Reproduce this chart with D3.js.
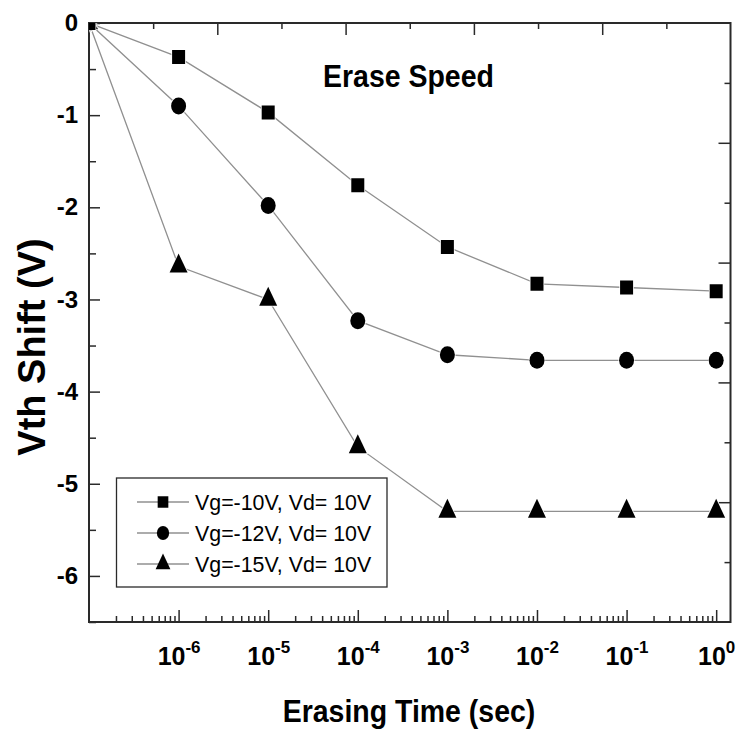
<!DOCTYPE html>
<html>
<head>
<meta charset="utf-8">
<script src="https://cdn.jsdelivr.net/npm/d3@7"></script>
<style>
  html, body { margin: 0; padding: 0; background: #fff; }
  svg { display: block; font-family: "Liberation Sans", Arial, sans-serif; }
</style>
</head>
<body>
<svg id="chart" width="736" height="733"></svg>
<script>
// Erasing time (s) and threshold-voltage shift (V) for each gate bias
const times = [1e-7, 1e-6, 1e-5, 1e-4, 1e-3, 1e-2, 1e-1, 1];
const vg10 = [0, -0.37, -0.97, -1.76, -2.43, -2.83, -2.87, -2.91];
const vg12 = [0, -0.90, -1.98, -3.23, -3.60, -3.66, -3.66, -3.66];
const vg15 = [0, -2.64, -3.00, -4.60, -5.30, -5.30, -5.30, -5.30];
const seriesNames = ["Vg=-10V, Vd= 10V", "Vg=-12V, Vd= 10V", "Vg=-15V, Vd= 10V"];
const seriesShapes = ["square", "circle", "triangle"];
const xDecades = [1e-6, 1e-5, 1e-4, 1e-3, 1e-2, 1e-1, 1];
const yTicks = [0, -1, -2, -3, -4, -5, -6];

const FONT = "'Liberation Sans', Arial, sans-serif";
const svg = d3.select("#chart");
const L = 89, R = 730.5, T = 23, B = 622;

const x = d3.scaleLog().domain([1e-7, 1.445]).range([L, R]);
const y = d3.scaleLinear().domain([0, -6.5]).range([T, B]);

const axisColor = "#2a2a2a";

// marker path generators (centered on the data point)
function shapePath(shape, s) {
  if (shape === "square") {
    const w = 13 * s, h = 14 * s;
    return `M${-w/2},${-h/2}h${w}v${h}h${-w}Z`;
  }
  if (shape === "circle") {
    const rx = 7.5 * s, ry = 8.5 * s;
    return `M${-rx},0A${rx},${ry} 0 1,0 ${rx},0A${rx},${ry} 0 1,0 ${-rx},0Z`;
  }
  const w = 18 * s, h = 19 * s;
  return `M0,${-2*h/3}L${w/2},${h/3}L${-w/2},${h/3}Z`;
}

// clip for data
svg.append("defs").append("clipPath").attr("id", "plotclip")
  .append("rect").attr("x", L).attr("y", T).attr("width", R - L).attr("height", B - T);

// ---- axes ----
function styleAxis(g) {
  g.attr("font-family", FONT);
  g.select(".domain").remove();
  g.selectAll(".tick line").attr("stroke", axisColor).attr("stroke-width", 1.5);
}

// bottom: log minor ticks and decade ticks
const minorVals = [];
for (let e = -7; e <= 0; e++) {
  for (let m = 2; m <= 9; m++) {
    const v = m * Math.pow(10, e);
    if (v < 1.445) minorVals.push(v);
  }
}
svg.append("g").attr("transform", `translate(0,${B})`)
  .call(d3.axisBottom(x).tickValues(minorVals).tickSize(-6).tickFormat(""))
  .call(styleAxis);
const bottomMajor = svg.append("g").attr("transform", `translate(0,${B})`)
  .call(d3.axisBottom(x).tickValues(xDecades).tickSize(-12).tickFormat(""))
  .call(styleAxis);
bottomMajor.selectAll(".tick text").remove();
bottomMajor.selectAll(".tick").each(function(d) {
  const exp = Math.round(Math.log10(d));
  const t = d3.select(this).append("text")
    .attr("fill", "#000")
    .attr("y", 43)
    .attr("text-anchor", "middle")
    .attr("font-family", FONT)
    .attr("font-size", 25)
    .attr("font-weight", "bold");
  t.append("tspan").text("10");
  t.append("tspan").attr("dy", -12).attr("font-size", 17).text(String(exp));
});

// left axis
svg.append("g").attr("transform", `translate(${L},0)`)
  .call(d3.axisLeft(y).tickValues(d3.range(-0.5, -6.6, -1)).tickSize(-7).tickFormat(""))
  .call(styleAxis);
svg.append("g").attr("transform", `translate(${L},0)`)
  .call(d3.axisLeft(y).tickValues(yTicks).tickSize(-11).tickPadding(11).tickFormat(d => String(d)))
  .call(styleAxis)
  .call(g => g.selectAll(".tick text")
    .attr("fill", "#000").attr("font-size", 24).attr("font-weight", "bold")
    .attr("font-family", FONT));

// top and right axes: plain linear scales with ten divisions
const xTop = d3.scaleLinear().domain([0, 10]).range([L, R]);
const yRight = d3.scaleLinear().domain([0, 10]).range([T, B]);
svg.append("g").attr("transform", `translate(0,${T})`)
  .call(d3.axisTop(xTop).tickValues([1, 3, 5, 7, 9]).tickSize(-6).tickFormat(""))
  .call(styleAxis);
svg.append("g").attr("transform", `translate(0,${T})`)
  .call(d3.axisTop(xTop).tickValues([2, 4, 6, 8]).tickSize(-12).tickFormat(""))
  .call(styleAxis);
svg.append("g").attr("transform", `translate(${R},0)`)
  .call(d3.axisRight(yRight).tickValues([1, 3, 5, 7, 9]).tickSize(-6).tickFormat(""))
  .call(styleAxis);
svg.append("g").attr("transform", `translate(${R},0)`)
  .call(d3.axisRight(yRight).tickValues([2, 4, 6, 8]).tickSize(-12).tickFormat(""))
  .call(styleAxis);

// frame
svg.append("rect").attr("x", L).attr("y", T).attr("width", R - L).attr("height", B - T)
  .attr("fill", "none").attr("stroke", axisColor).attr("stroke-width", 2);

// ---- data ----
const allSeries = [vg15, vg12, vg10];
const allShapes = ["triangle", "circle", "square"];
const plot = svg.append("g").attr("clip-path", "url(#plotclip)");
const line = d3.line().x((d, i) => x(times[i])).y(d => y(d));

allSeries.forEach(vals => {
  plot.append("path").datum(vals)
    .attr("d", line)
    .attr("fill", "none")
    .attr("stroke", "#909090")
    .attr("stroke-width", 1.3);
});
allSeries.forEach((vals, k) => {
  plot.selectAll(null).data(vals).enter().append("path")
    .attr("transform", (d, i) => `translate(${x(times[i])},${y(d)})`)
    .attr("d", shapePath(allShapes[k], 1))
    .attr("fill", "#000")
    .attr("stroke", "#fff")
    .attr("stroke-width", 1.5)
    .attr("paint-order", "stroke");
});

// ---- titles ----
svg.append("text")
  .attr("transform", "translate(323,87) scale(0.89,1)")
  .attr("font-size", 32).attr("font-weight", "bold").attr("fill", "#000")
  .text("Erase Speed");

svg.append("text")
  .attr("transform", "translate(409,722) scale(0.89,1)")
  .attr("text-anchor", "middle")
  .attr("font-size", 32).attr("font-weight", "bold").attr("fill", "#000")
  .text("Erasing Time (sec)");

svg.append("text")
  .attr("transform", "translate(45,347) rotate(-90)")
  .attr("text-anchor", "middle")
  .attr("font-size", 38).attr("font-weight", "bold").attr("fill", "#000")
  .text("Vth Shift (V)");

// ---- legend ----
const legend = svg.append("g");
legend.append("rect").attr("x", 116.5).attr("y", 478).attr("width", 270.5).attr("height", 109)
  .attr("fill", "#fff").attr("stroke", axisColor).attr("stroke-width", 1.3);
const rowY = [502, 533, 564];
seriesNames.forEach((name, i) => {
  const g = legend.append("g").attr("transform", `translate(0,${rowY[i]})`);
  g.append("line").attr("x1", 137).attr("x2", 189).attr("y1", 0).attr("y2", 0)
    .attr("stroke", "#909090").attr("stroke-width", 1.3);
  g.append("path").attr("transform", "translate(163,0)")
    .attr("d", shapePath(seriesShapes[i], 0.82)).attr("fill", "#000");
  g.append("text").attr("transform", "translate(195,8) scale(0.93,1)")
    .attr("font-size", 23).attr("fill", "#000")
    .text(name);
});
</script>
</body>
</html>
